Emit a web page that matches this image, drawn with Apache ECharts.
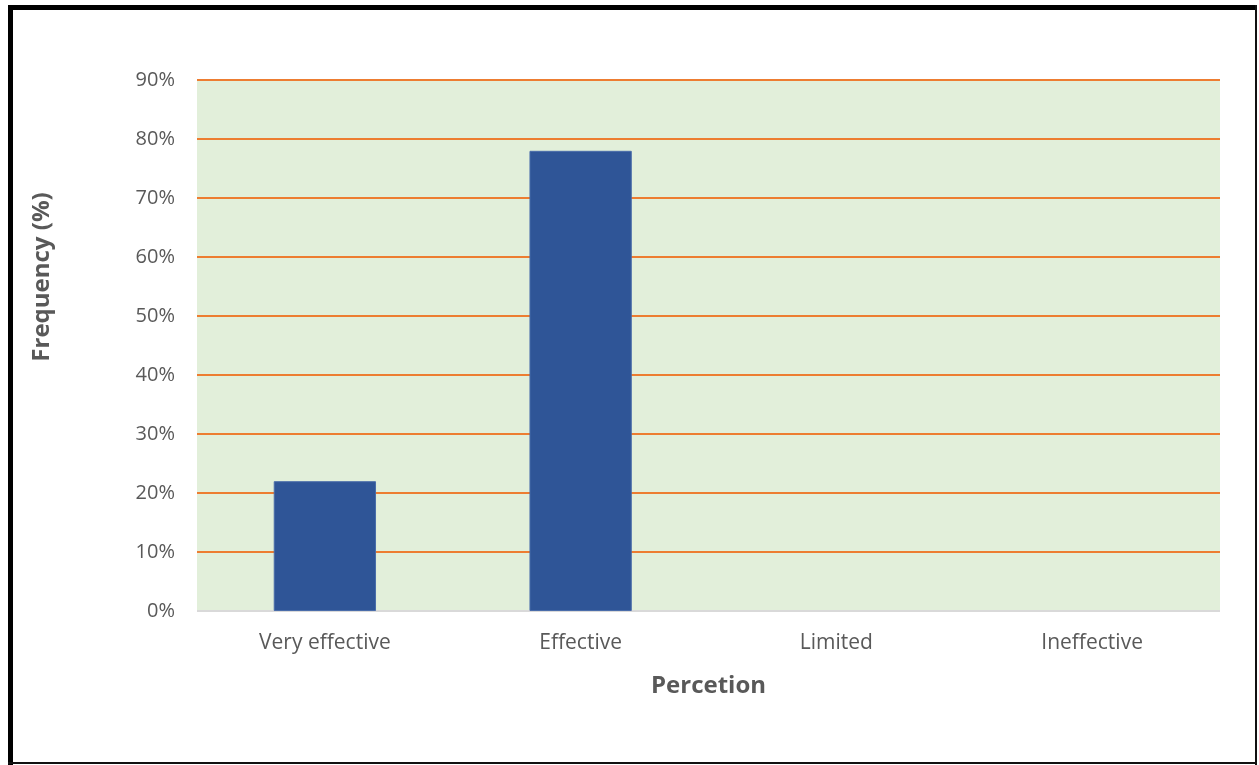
<!DOCTYPE html>
<html><head><meta charset="utf-8">
<script src="https://cdn.jsdelivr.net/npm/echarts@6/dist/echarts.min.js"></script>
<style>html,body{margin:0;padding:0;background:#fff}#c{width:1259px;height:765px}</style>
</head><body><div id="c"></div>
<script>
const categories = ["Very effective", "Effective", "Limited", "Ineffective"];
const frequency = [22, 78, 0, 0];
const yTicks = [0, 10, 20, 30, 40, 50, 60, 70, 80, 90];

const chart = echarts.init(document.getElementById('c'));
const font = '"Open Sans", "Liberation Sans", sans-serif';
const gridColors = yTicks.map(v => v === 0 ? '#D9D9D9' : '#ED7D31');
chart.setOption({
  animation: false,
  backgroundColor: '#ffffff',
  grid: { left: 197, right: 39, top: 80, bottom: 154, show: true, backgroundColor: '#E2EFDA', borderWidth: 0 },
  xAxis: {
    type: 'category', data: categories,
    name: 'Percetion', nameLocation: 'middle', nameGap: 63,
    nameTextStyle: { fontFamily: font, fontSize: 24, fontWeight: 'bold', color: '#595959' },
    axisLine: { show: false },
    axisTick: { show: false },
    axisLabel: { fontFamily: font, fontSize: 21, color: '#595959', margin: 22 }
  },
  yAxis: {
    type: 'value', min: 0, max: 90, interval: 10,
    axisLine: { show: false }, axisTick: { show: false },
    splitLine: { lineStyle: { color: gridColors, width: 2 } },
    axisLabel: { fontFamily: font, fontSize: 20, color: '#595959', margin: 22,
      formatter: v => yTicks.includes(v) ? v + '%' : '' }
  },
  series: [{
    type: 'bar', data: frequency.map(v => ({ value: v, itemStyle: { borderWidth: v > 0 ? 1 : 0 } })),
    barWidth: '40%',
    itemStyle: { color: '#2F5597', borderColor: '#4A6DAA' }
  }],
  graphic: [
    { type: 'text', x: 42, y: 277, rotation: Math.PI / 2,
      style: { text: 'Frequency (%)', fontFamily: font, fontSize: 24, fontWeight: 'bold', fill: '#595959',
        align: 'center', verticalAlign: 'middle' } },
    { type: 'rect', shape: { x: 8, y: 5, width: 1249, height: 5 }, style: { fill: '#000' } },
    { type: 'rect', shape: { x: 8, y: 5, width: 5, height: 760 }, style: { fill: '#000' } },
    { type: 'rect', shape: { x: 1255, y: 5, width: 2, height: 760 }, style: { fill: '#111' } },
    { type: 'rect', shape: { x: 8, y: 762, width: 1249, height: 2 }, style: { fill: '#111' } }
  ]
});
</script></body></html>
